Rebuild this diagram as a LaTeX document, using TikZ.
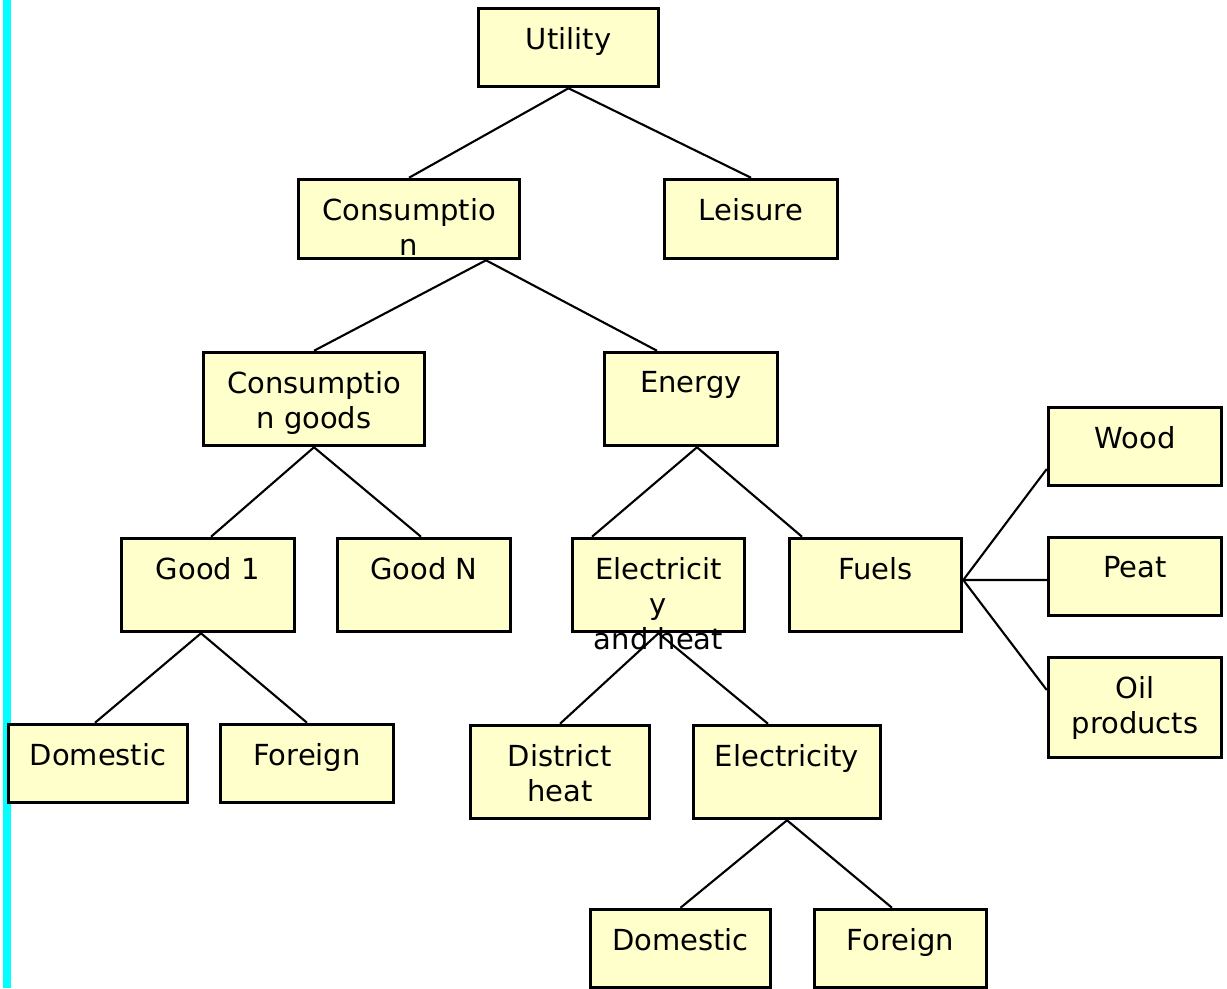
\documentclass[tikz,border=0pt]{standalone}
\usepackage{fontspec}
\setmainfont{DejaVu Sans}
\definecolor{boxfill}{RGB}{255,255,204}
\definecolor{barcyan}{RGB}{0,255,255}
\tikzset{
  box/.style={draw, line width=2pt, fill=boxfill, inner sep=0pt,
    minimum width=3.46cm, minimum height=1.56cm},
  boxtext/.style={anchor=north, yshift=-0.40cm, align=center, inner sep=0pt,
    font=\fontsize{16.5}{19.9}\selectfont},
  link/.style={line width=1.2pt}
}
\begin{document}
\begin{tikzpicture}
    \useasboundingbox (0,0) rectangle (24.54,-19.76);
    % Side bar
    \fill[barcyan] (0.06,0) rectangle (0.21,-19.76);

    % Upper levels
    \node[box, minimum width=3.60cm, label={[boxtext]north:Utility}] (utility) at (11.37,-0.95) {};
    \node[box, minimum width=4.42cm, minimum height=1.58cm, label={[boxtext]north:Consumptio\\n}] (cons) at (8.18,-4.38) {};
    \node[box, minimum width=3.46cm, minimum height=1.58cm, label={[boxtext]north:Leisure}] (leisure) at (15.02,-4.38) {};
    \node[box, minimum width=4.42cm, minimum height=1.86cm, label={[boxtext]north:Consumptio\\n goods}] (goods) at (6.28,-7.98) {};
    \node[box, minimum width=3.46cm, minimum height=1.86cm, label={[boxtext]north:Energy}] (energy) at (13.82,-7.98) {};

    % Goods and energy carriers
    \node[box, minimum height=1.86cm, label={[boxtext]north:Good 1}] (goodone) at (4.16,-11.70) {};
    \node[box, minimum height=1.86cm, label={[boxtext]north:Good N}] (goodn) at (8.48,-11.70) {};
    \node[box, minimum width=3.44cm, minimum height=1.86cm, label={[boxtext]north:Electricit\\y\\and heat}] (elheat) at (13.17,-11.70) {};
    \node[box, minimum width=3.44cm, minimum height=1.86cm, label={[boxtext]north:Fuels}] (fuels) at (17.51,-11.70) {};

    % Fuels
    \node[box, label={[boxtext]north:Wood}] (wood) at (22.70,-8.93) {};
    \node[box, label={[boxtext]north:Peat}] (peat) at (22.70,-11.53) {};
    \node[box, minimum height=2.00cm, label={[boxtext]north:Oil\\products}] (oil) at (22.70,-14.15) {};

    % Lower levels
    \node[box, minimum width=3.58cm, label={[boxtext]north:Domestic}] (domestic) at (1.96,-15.27) {};
    \node[box, label={[boxtext]north:Foreign}] (foreign) at (6.14,-15.27) {};
    \node[box, minimum width=3.58cm, minimum height=1.86cm, label={[boxtext]north:District\\heat}] (district) at (11.20,-15.44) {};
    \node[box, minimum width=3.74cm, minimum height=1.86cm, label={[boxtext]north:Electricity}] (elec) at (15.74,-15.44) {};
    \node[box, minimum width=3.60cm, label={[boxtext]north:Domestic}] (eldomestic) at (13.61,-18.97) {};
    \node[box, minimum width=3.44cm, label={[boxtext]north:Foreign}] (elforeign) at (18.01,-18.97) {};

    % Connections
    \draw[link] (utility.south) -- (cons.north);
    \draw[link] (utility.south) -- (leisure.north);
    \draw[link] ([xshift=1.54cm]cons.south) -- (goods.north);
    \draw[link] ([xshift=1.54cm]cons.south) -- ([xshift=-0.68cm]energy.north);
    \draw[link] (goods.south) -- ([xshift=0.06cm]goodone.north);
    \draw[link] (goods.south) -- ([xshift=-0.06cm]goodn.north);
    \draw[link] ([xshift=0.12cm]energy.south) -- ([xshift=-1.33cm]elheat.north);
    \draw[link] ([xshift=0.12cm]energy.south) -- ([xshift=-1.47cm]fuels.north);
    \draw[link] ([xshift=-0.14cm]goodone.south) -- ([xshift=-0.06cm]domestic.north);
    \draw[link] ([xshift=-0.14cm]goodone.south) -- (foreign.north);
    \draw[link] (elheat.south) -- (district.north);
    \draw[link] (elheat.south) -- ([xshift=-0.38cm]elec.north);
    \draw[link] (elec.south) -- (eldomestic.north);
    \draw[link] (elec.south) -- ([xshift=-0.17cm]elforeign.north);
    \draw[link] ([yshift=0.10cm]fuels.east) -- ([yshift=-0.45cm]wood.west);
    \draw[link] ([yshift=0.10cm]fuels.east) -- ([yshift=-0.07cm]peat.west);
    \draw[link] ([yshift=0.10cm]fuels.east) -- ([yshift=0.35cm]oil.west);
\end{tikzpicture}
\end{document}
